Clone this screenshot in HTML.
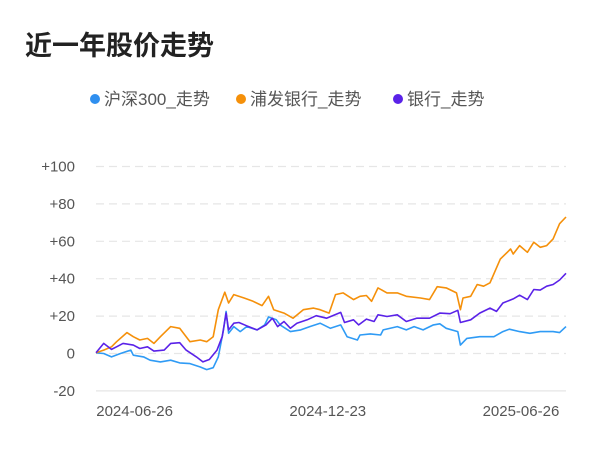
<!DOCTYPE html>
<html><head><meta charset="utf-8"><style>
body{margin:0;width:600px;height:446px;background:#fff;overflow:hidden;font-family:"Liberation Sans","Noto Sans CJK SC",sans-serif}
</style></head><body>
<svg width="600" height="446">
<text x="25" y="55" font-size="27" font-weight="bold" fill="#222" font-family="Liberation Sans, Noto Sans CJK SC, sans-serif">近一年股价走势</text>
<g font-size="17" fill="#555" font-family="Liberation Sans, Noto Sans CJK SC, sans-serif">
<g><circle cx="95" cy="99" r="5" fill="#2f8fef"/><text x="104" y="105">沪深300_走势</text></g>
<g><circle cx="241" cy="99" r="5" fill="#f5900a"/><text x="250" y="105">浦发银行_走势</text></g>
<g><circle cx="398" cy="99" r="5" fill="#5a22e8"/><text x="407" y="105">银行_走势</text></g>
</g>
<g id="grid"></g><g id="axes"></g><g id="lines"></g>
</svg>
<script>
const yTicks=[100,80,60,40,20,0,-20];
const yTickLabels=["+100","+80","+60","+40","+20","0","-20"];
const xTickDays=[30,180,330];
const xTickLabels=["2024-06-26","2024-12-23","2025-06-26"];
const spdbDays=[0,6,12,16,24,29,34,40,45,50,58,65,73,81,86,91,95,100,103,107,115,122,129,134,138,146,153,161,169,174,181,186,192,200,205,210,214,219,226,234,241,252,259,265,272,280,283,285,291,296,301,306,314,322,324,329,335,340,345,350,355,360,365];
const spdbVals=[0.4,1.8,3.6,6.3,11.2,9,7.2,8.1,5.4,9,14.4,13.5,6.3,7.2,6.3,9,23.4,32.8,27,31.5,29.7,27.9,25.6,30.6,23.4,21.6,18.9,23.4,24.3,23.4,21.6,31.5,32.4,28.8,30.6,31,27.9,35.1,32.4,32.4,30.6,29.7,28.8,35.7,35.1,32.4,23.4,29.7,30.6,36.9,36,37.8,50.5,55.9,53.2,57.7,54.1,59.5,56.8,57.7,61.3,69.4,73];
const bankDays=[0,6,12,16,21,29,34,40,45,53,58,65,70,78,83,88,94,98,101,103,107,111,117,125,132,137,141,146,151,156,164,171,179,190,193,200,204,210,216,219,226,234,241,249,259,267,275,281,283,291,298,306,311,316,324,329,335,340,345,350,355,360,365];
const bankVals=[0.4,5.4,2.2,3.6,5.4,4.5,2.7,3.6,1.3,1.8,5.4,5.8,1.8,-1.8,-4.5,-3.2,1.8,9,21.6,12.6,16.2,16.6,14.8,12.6,15.3,18.9,14.4,17.1,13.5,16.2,18,20.2,18.9,22,16.6,18,15.3,18.4,17.1,20.7,19.8,20.7,17.1,18.9,18.9,21.6,21.3,23.1,16.6,18,21.6,24.3,22.5,27,29.2,31.2,28.8,34.2,33.9,36,36.9,39.3,42.9];
const hsDays=[0,6,12,19,27,29,37,42,50,58,65,73,81,86,91,95,99,101,103,107,112,117,125,131,134,140,143,151,159,166,174,182,190,195,203,205,213,221,223,234,241,247,254,262,267,272,281,283,288,298,309,316,321,329,337,345,355,360,365];
const hsVals=[0.4,0,-1.8,0,1.8,-0.9,-1.8,-3.6,-4.5,-3.6,-5,-5.4,-7.2,-8.6,-7.6,-1.8,12.6,22.5,10.8,14.4,11.7,14.4,12.6,15.3,19.5,18,15.3,11.7,12.6,14.4,16.2,13.5,15.3,9,7.2,9.9,10.5,9.9,12.6,14.4,12.6,14.4,12.6,15.3,15.9,13.5,11.7,4.5,8.1,9,9,11.7,13,11.7,10.8,11.7,11.7,11.2,14.4];
const NS="http://www.w3.org/2000/svg";
const X0=96,X1=566,Y0=353.5,PER=(353.5-166.5)/100;
const xs=d=>X0+(X1-X0)*d/365, ys=v=>Y0-v*PER;
function mk(t,a,p){const e=document.createElementNS(NS,t);for(const k in a)e.setAttribute(k,a[k]);p.appendChild(e);return e;}
const grid=document.getElementById('grid'),axes=document.getElementById('axes'),lines=document.getElementById('lines');
yTicks.forEach((v,i)=>{
 const l=mk('line',{x1:X0,x2:X1,y1:ys(v),y2:ys(v),stroke:'#e6e6e6','stroke-width':1.2,'stroke-dasharray':v===-20?'':'8,5'},grid);
 
 
 const t=mk('text',{x:75,y:ys(v)+5,'text-anchor':'end','font-size':15,fill:'#555','font-family':'Liberation Sans, sans-serif'},axes);
 t.textContent=yTickLabels[i];
 
 
});
xTickDays.forEach((d,i)=>{
 const t=mk('text',{x:xs(d),y:416,'text-anchor':'middle','font-size':15,fill:'#555','font-family':'Liberation Sans, sans-serif'},axes);
 t.textContent=xTickLabels[i];
 
 
});
[[hsDays,hsVals,'#2f9bf5','line-hs300'],[spdbDays,spdbVals,'#f5900a','line-spdb'],[bankDays,bankVals,'#5a22e8','line-bank']].forEach(([d,v,c,n])=>{
 const p=mk('polyline',{points:d.map((x,i)=>xs(x).toFixed(1)+','+ys(v[i]).toFixed(1)).join(' '),fill:'none',stroke:c,'stroke-width':1.6,'stroke-linejoin':'round'},lines);
 
 
});
</script>
</body></html>
